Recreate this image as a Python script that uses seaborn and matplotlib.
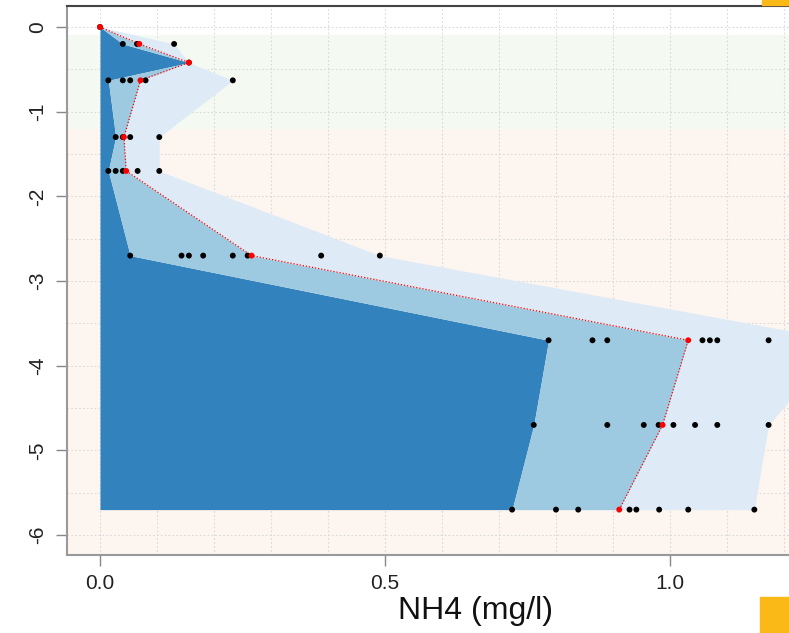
import numpy as np
import pandas as pd
import matplotlib
matplotlib.use("Agg")
import matplotlib.pyplot as plt
from matplotlib.patches import Rectangle
import seaborn as sns

# ---------------- data ----------------
depths = [0.0, -0.2, -0.42, -0.63, -1.3, -1.7, -2.7, -3.7, -4.7, -5.7]
mean_vals = [0.0, 0.069, 0.156, 0.071, 0.042, 0.046, 0.266, 1.032, 0.987, 0.911]

obs_0 = [0.0]
obs_02 = [0.040, 0.065, 0.130]
obs_042 = [0.156]
obs_063 = [0.0146, 0.040, 0.053, 0.080, 0.233]
obs_13 = [0.0275, 0.040, 0.053, 0.104]
obs_17 = [0.0146, 0.0275, 0.040, 0.066, 0.104]
obs_27 = [0.053, 0.143, 0.156, 0.181, 0.233, 0.259, 0.388, 0.491]
obs_37 = [0.787, 0.864, 0.890, 1.057, 1.070, 1.083, 1.173, 1.300]
obs_47 = [0.761, 0.890, 0.954, 0.980, 1.006, 1.044, 1.083, 1.173]
obs_57 = [0.723, 0.800, 0.839, 0.929, 0.941, 0.981, 1.032, 1.148]
obs_lists = [obs_0, obs_02, obs_042, obs_063, obs_13, obs_17,
             obs_27, obs_37, obs_47, obs_57]

xticks = [0.0, 0.5, 1.0]
xtick_labels = ["0.0", "0.5", "1.0"]
yticks = [0, -1, -2, -3, -4, -5, -6]
ytick_labels = ["0", "-1", "-2", "-3", "-4", "-5", "-6"]
x_label = "NH4 (mg/l)"

# ---------------- build tables ----------------
obs = pd.DataFrame(
    [(d, v) for d, vals in zip(depths, obs_lists) for v in vals],
    columns=["depth", "value"],
)
summary = obs.groupby("depth", sort=False)["value"].agg(["min", "max"]).reset_index()
summary["mean"] = mean_vals
summary = summary.sort_values("depth", ascending=False)

# ---------------- figure ----------------
sns.set_style("white")
plt.rcParams["font.family"] = ["Liberation Sans", "DejaVu Sans"]

W, H = 789, 633
fig = plt.figure(figsize=(W / 100, H / 100), dpi=100)
ax = fig.add_axes([67 / W, 1 - 555 / H, 1 - 67 / W, (555 - 6) / H])

ax.set_xlim(-0.0579, 1.2088)
ax.set_ylim(-6.236, 0.248)

# background bands
ax.axhspan(-1.2, -0.1, color="#f4f9f1", zorder=0, lw=0)
ax.axhspan(-7, -1.2, color="#fdf5ef", zorder=0, lw=0)

# grid
for gx in np.arange(0, 1.25, 0.1):
    ax.axvline(gx, color="#d9d9d9", lw=0.8, ls=(0, (1.5, 2)), zorder=0.5)
for gy in np.arange(0, -6.01, -0.5):
    ax.axhline(gy, color="#d9d9d9", lw=0.8, ls=(0, (1.5, 2)), zorder=0.5)

d = summary["depth"].values
ax.fill_betweenx(d, 0, summary["min"].values, color="#3182bd", lw=0, zorder=1)
ax.fill_betweenx(d, summary["min"].values, summary["mean"].values,
                 color="#9ecae1", lw=0, zorder=1)
ax.fill_betweenx(d, summary["mean"].values, summary["max"].values,
                 color="#deebf7", lw=0, zorder=1)

# mean line
sns.lineplot(data=summary, x="mean", y="depth", sort=False, estimator=None,
             color="red", lw=0.9, ls=(0, (1, 1.5)), ax=ax, zorder=2)

sns.scatterplot(data=obs, x="value", y="depth", color="black", s=18,
                edgecolor="none", ax=ax, zorder=3)
sns.scatterplot(data=summary, x="mean", y="depth", color="red", s=18,
                edgecolor="none", ax=ax, zorder=4)

# axes styling
ax.set_xticks(xticks)
ax.set_xticklabels(xtick_labels, fontsize=15, color="#222222")
ax.set_yticks(yticks)
ax.set_yticklabels(ytick_labels, fontsize=15, color="#222222", rotation=90,
                   va="center")
ax.tick_params(axis="both", direction="out", length=8, width=1,
               color="#888888", left=True, bottom=True, pad=6)
ax.set_xlabel(x_label, fontsize=23, color="#111111")
ax.xaxis.set_label_coords((475 - 67) / (W - 67), (555 - 611) / (555 - 6))
ax.xaxis.label.set_va("center")
ax.set_ylabel("")
for side in ["left", "bottom"]:
    ax.spines[side].set_color("#999999")
    ax.spines[side].set_linewidth(1.5)
ax.spines["right"].set_visible(False)
ax.spines["top"].set_color("#444444")
ax.spines["top"].set_linewidth(1.5)

# orange corner blocks visible in the reference
fig.patches.append(Rectangle((762 / W, 1 - 5 / H), 27 / W, 5 / H,
                             transform=fig.transFigure, color="#fbb917",
                             zorder=5))
fig.patches.append(Rectangle((760 / W, 0), 29 / W, 36 / H,
                             transform=fig.transFigure, color="#fbb917",
                             zorder=5))

fig.savefig("out.png", dpi=100)
